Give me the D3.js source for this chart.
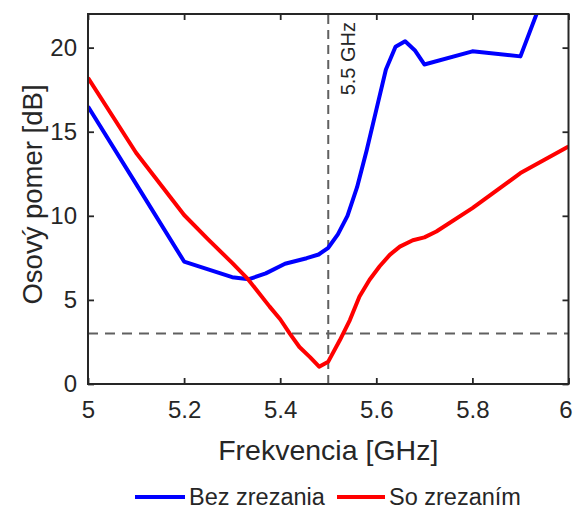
<!DOCTYPE html>
<html>
<head>
<meta charset="utf-8">
<script src="https://cdn.jsdelivr.net/npm/d3@7/dist/d3.min.js"></script>
<style>
  html, body { margin: 0; padding: 0; background: #fff; }
  svg { display: block; }
  text { font-family: "Liberation Sans", Arial, Helvetica, sans-serif; fill: #262626; }
</style>
</head>
<body>
<svg id="chart" width="574" height="509"></svg>
<script>
// ---- data ----
const freqBez = [5.0, 5.1, 5.2, 5.25, 5.30, 5.335, 5.37, 5.41, 5.455, 5.48, 5.50, 5.52, 5.54, 5.56, 5.58, 5.60, 5.62, 5.64, 5.66, 5.68, 5.70, 5.80, 5.90, 6.0];
const valBez  = [16.5, 11.9, 7.28, 6.82, 6.35, 6.23, 6.58, 7.15, 7.48, 7.7, 8.1, 8.9, 10.0, 11.7, 13.9, 16.3, 18.7, 20.05, 20.38, 19.85, 19.0, 19.78, 19.48, 27.0];

const freqSo = [5.0, 5.1, 5.2, 5.25, 5.30, 5.333, 5.378, 5.40, 5.42, 5.44, 5.462, 5.481, 5.50, 5.524, 5.545, 5.565, 5.586, 5.607, 5.628, 5.649, 5.676, 5.70, 5.725, 5.80, 5.90, 6.0];
const valSo  = [18.2, 13.75, 10.05, 8.6, 7.2, 6.23, 4.6, 3.85, 3.0, 2.2, 1.6, 1.03, 1.33, 2.6, 3.8, 5.2, 6.2, 7.0, 7.68, 8.17, 8.55, 8.72, 9.07, 10.46, 12.54, 14.12];

const seriesNames = ["Bez zrezania", "So zrezaním"];
const seriesColors = ["#0000FF", "#FF0000"];

const xTicks = [5, 5.2, 5.4, 5.6, 5.8, 6];
const xTickLabels = ["5", "5.2", "5.4", "5.6", "5.8", "6"];
const yTicks = [0, 5, 10, 15, 20];
const yTickLabels = ["0", "5", "10", "15", "20"];

const xDomain = [5, 6];
const yDomain = [0, 22];
const refFreq = 5.5;
const refFreqLabel = "5.5 GHz";
const refLevel = 3;

const xLabel = "Frekvencia [GHz]";
const yLabel = "Osový pomer [dB]";

// ---- layout ----
const pL = 88, pR = 568.5, pT = 14, pB = 384;
const svg = d3.select("#chart");
const x = d3.scaleLinear().domain(xDomain).range([pL, pR]);
const y = d3.scaleLinear().domain(yDomain).range([pB, pT]);
const axisColor = "#262626";
const tickFont = 24;

svg.append("defs").append("clipPath").attr("id", "plotclip")
  .append("rect").attr("x", pL).attr("y", pT).attr("width", pR - pL).attr("height", pB - pT);

// reference dashed lines
const dashColor = "#606060";
svg.append("line")
  .attr("x1", x(refFreq)).attr("x2", x(refFreq)).attr("y1", y(yDomain[0])).attr("y2", y(yDomain[1]))
  .attr("stroke", dashColor).attr("stroke-width", 2).attr("stroke-dasharray", "9,6");
svg.append("line")
  .attr("x1", x(xDomain[0])).attr("x2", x(xDomain[1])).attr("y1", y(refLevel)).attr("y2", y(refLevel))
  .attr("stroke", dashColor).attr("stroke-width", 2).attr("stroke-dasharray", "10,7");

svg.append("text")
  .attr("transform", `translate(${x(refFreq) + 27},${pT + 8}) rotate(-90)`)
  .attr("text-anchor", "end")
  .attr("font-size", 20)
  .attr("fill", "#333")
  .text(refFreqLabel);

// data lines
const line = d3.line().x(d => x(d[0])).y(d => y(d[1])).curve(d3.curveLinear);
const datasets = [
  freqBez.map((f, i) => [f, valBez[i]]),
  freqSo.map((f, i) => [f, valSo[i]])
];
const g = svg.append("g").attr("clip-path", "url(#plotclip)");
datasets.forEach((ds, i) => {
  g.append("path").datum(ds)
    .attr("d", line)
    .attr("fill", "none")
    .attr("stroke", seriesColors[i])
    .attr("stroke-width", 4)
    .attr("stroke-linejoin", "round");
});

// axes (box with inner ticks)
const tickLen = 6;
const axB = d3.axisBottom(x).tickValues(xTicks).tickFormat((d, i) => xTickLabels[i]).tickSizeInner(-tickLen).tickSizeOuter(0).tickPadding(17);
const axT = d3.axisTop(x).tickValues(xTicks).tickFormat("").tickSizeInner(-tickLen).tickSizeOuter(0);
const axL = d3.axisLeft(y).tickValues(yTicks).tickFormat((d, i) => yTickLabels[i]).tickSizeInner(-tickLen).tickSizeOuter(0).tickPadding(11);
const axR = d3.axisRight(y).tickValues(yTicks).tickFormat("").tickSizeInner(-tickLen).tickSizeOuter(0);

function styleAxis(sel) {
  sel.selectAll("path.domain").remove();
  sel.selectAll("line").attr("stroke", axisColor).attr("stroke-width", 1.8);
  sel.selectAll("text").attr("font-size", tickFont).attr("fill", axisColor)
    .style("font-family", '"Liberation Sans", Arial, sans-serif');
}
const gB = svg.append("g").attr("transform", `translate(0,${pB})`).call(axB).call(styleAxis);
// keep the last tick label inside the canvas
gB.selectAll(".tick text").filter(d => d === xDomain[1]).attr("dx", -3);
svg.append("g").attr("transform", `translate(0,${pT})`).call(axT).call(styleAxis);
svg.append("g").attr("transform", `translate(${pL},0)`).call(axL).call(styleAxis);
svg.append("g").attr("transform", `translate(${pR},0)`).call(axR).call(styleAxis);

svg.append("rect")
  .attr("x", pL).attr("y", pT).attr("width", pR - pL).attr("height", pB - pT)
  .attr("fill", "none").attr("stroke", axisColor).attr("stroke-width", 2);

// axis labels
svg.append("text")
  .attr("x", (pL + pR) / 2).attr("y", 460)
  .attr("text-anchor", "middle").attr("font-size", 28.5)
  .text(xLabel);
svg.append("text")
  .attr("transform", `translate(41.5,194.5) rotate(-90)`)
  .attr("text-anchor", "middle").attr("font-size", 27.5)
  .text(yLabel);

// legend
const legendItems = [
  { x0: 135, x1: 185, tx: 189 },
  { x0: 337, x1: 385, tx: 389 }
];
legendItems.forEach((it, i) => {
  svg.append("line")
    .attr("x1", it.x0).attr("x2", it.x1).attr("y1", 497).attr("y2", 497)
    .attr("stroke", seriesColors[i]).attr("stroke-width", 4);
  svg.append("text")
    .attr("x", it.tx).attr("y", 505)
    .attr("font-size", 23.5).attr("fill", "#000")
    .text(seriesNames[i]);
});
</script>
</body>
</html>
